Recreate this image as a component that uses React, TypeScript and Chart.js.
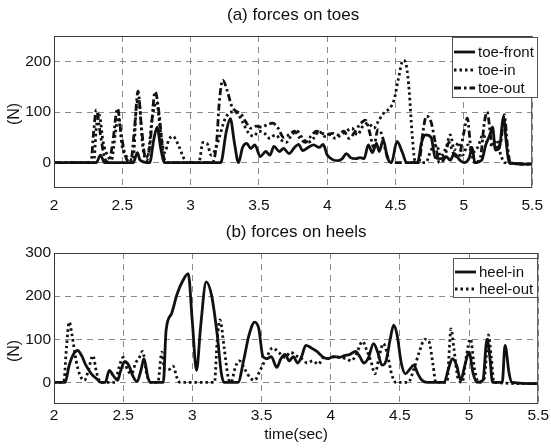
import React, { useEffect, useRef } from "react";
import { Chart, registerables } from "chart.js";

Chart.register(...registerables);

const FONT = '"Liberation Sans", Arial, Helvetica, sans-serif';

// ---------- (a) forces on toes ----------
const toeFrontT = [2.0, 2.31, 2.34, 2.37, 2.58, 2.61, 2.63, 2.7, 2.73, 2.755, 2.78, 2.81, 3.22, 3.26, 3.29, 3.32, 3.35, 3.38, 3.41, 3.44, 3.47, 3.51, 3.55, 3.58, 3.61, 3.65, 3.68, 3.72, 3.76, 3.79, 3.82, 3.86, 3.9, 3.94, 3.97, 4.0, 4.04, 4.08, 4.11, 4.14, 4.17, 4.21, 4.24, 4.27, 4.3, 4.33, 4.36, 4.38, 4.41, 4.44, 4.47, 4.51, 4.55, 4.58, 4.66, 4.69, 4.72, 4.76, 4.79, 4.83, 4.87, 4.9, 4.93, 4.97, 5.0, 5.04, 5.06, 5.08, 5.13, 5.16, 5.19, 5.21, 5.23, 5.26, 5.29, 5.31, 5.33, 5.5];
const toeFrontY = [0, 0, 15, 0, 0, 20, 5, 0, 45, 70, 30, 0, 0, 60, 87, 40, 0, 30, 38, 28, 35, 12, 22, 15, 32, 22, 28, 18, 30, 36, 24, 30, 35, 30, 36, 15, 6, 4, 8, 18, 10, 8, 10, 8, 35, 20, 38, 22, 45, 10, 0, 42, 20, 0, 0, 40, 55, 50, 10, 8, 12, 5, 18, 5, 0, 10, 30, 0, 5, 35, 55, 70, 25, 30, 90, 40, 0, -3];

const toeInT = [2.0, 2.29, 2.31, 2.33, 2.36, 2.39, 2.42, 2.45, 2.47, 2.5, 2.54, 2.58, 2.6, 2.62, 2.65, 2.68, 2.72, 2.75, 2.78, 2.81, 2.84, 2.87, 2.91, 2.94, 2.97, 3.06, 3.09, 3.12, 3.15, 3.18, 3.21, 3.25, 3.3, 3.34, 3.38, 3.42, 3.46, 3.5, 3.54, 3.58, 3.62, 3.66, 3.7, 3.74, 3.78, 3.82, 3.86, 3.9, 3.94, 3.98, 4.02, 4.06, 4.1, 4.14, 4.18, 4.22, 4.26, 4.3, 4.34, 4.38, 4.42, 4.46, 4.49, 4.52, 4.555, 4.58, 4.6, 4.62, 4.64, 4.66, 4.72, 4.76, 4.8, 4.83, 4.87, 4.9, 4.93, 4.96, 4.99, 5.03, 5.06, 5.1, 5.14, 5.17, 5.21, 5.24, 5.27, 5.3, 5.5];
const toeInY = [0, 0, 70, 95, 40, 15, 5, 60, 90, 30, 10, 5, 100, 125, 30, 5, 90, 120, 60, 20, 45, 52, 35, 15, 0, 0, 40, 38, 15, 25, 50, 85, 100, 98, 80, 60, 52, 62, 58, 48, 55, 45, 40, 55, 62, 48, 40, 48, 62, 52, 55, 48, 55, 62, 68, 55, 72, 78, 68, 85, 100, 108, 125, 165, 202, 190, 140, 60, 5, 0, 0, 25, 35, 12, 30, 55, 25, 40, 15, 35, 20, 30, 55, 40, 35, 45, 15, 0, -3];

const toeOutT = [2.0, 2.27, 2.29, 2.31, 2.34, 2.37, 2.4, 2.43, 2.465, 2.49, 2.52, 2.56, 2.59, 2.615, 2.64, 2.67, 2.7, 2.74, 2.77, 2.8, 2.83, 3.16, 3.19, 3.21, 3.235, 3.27, 3.3, 3.33, 3.37, 3.4, 3.44, 3.48, 3.52, 3.56, 3.6, 3.64, 3.68, 3.72, 3.76, 3.8, 3.84, 3.88, 3.92, 3.96, 4.0, 4.04, 4.08, 4.12, 4.16, 4.2, 4.24, 4.28, 4.31, 4.34, 4.37, 4.4, 4.43, 4.47, 4.67, 4.7, 4.725, 4.76, 4.79, 4.82, 4.86, 4.89, 4.92, 4.96, 5.0, 5.025, 5.05, 5.08, 5.12, 5.15, 5.17, 5.2, 5.24, 5.27, 5.295, 5.32, 5.34, 5.5];
const toeOutY = [0, 0, 60, 104, 55, 10, 0, 40, 107, 60, 15, 0, 70, 141, 70, 10, 30, 140, 95, 15, 0, 0, 40, 120, 163, 140, 112, 102, 96, 82, 68, 72, 70, 75, 78, 68, 50, 55, 62, 48, 40, 52, 62, 58, 56, 58, 55, 62, 48, 60, 76, 84, 60, 30, 65, 55, 20, 0, 0, 60, 92, 80, 40, 0, 10, 40, 20, 10, 60, 88, 30, 0, 10, 80, 100, 45, 30, 40, 95, 30, 0, -3];

// ---------- (b) forces on heels ----------
const heelInT = [2.0, 2.08, 2.11, 2.14, 2.17, 2.2, 2.23, 2.27, 2.31, 2.34, 2.37, 2.4, 2.43, 2.46, 2.48, 2.51, 2.54, 2.57, 2.6, 2.63, 2.65, 2.68, 2.7, 2.79, 2.81, 2.85, 2.89, 2.93, 2.97, 3.0, 3.03, 3.06, 3.1, 3.14, 3.18, 3.21, 3.23, 3.33, 3.37, 3.41, 3.45, 3.48, 3.51, 3.54, 3.57, 3.61, 3.64, 3.67, 3.7, 3.73, 3.76, 3.79, 3.82, 3.86, 3.9, 3.94, 3.98, 4.02, 4.06, 4.1, 4.14, 4.18, 4.21, 4.24, 4.27, 4.31, 4.34, 4.37, 4.4, 4.43, 4.455, 4.48, 4.51, 4.54, 4.57, 4.6, 4.63, 4.66, 4.7, 4.82, 4.85, 4.88, 4.91, 4.94, 4.97, 5.0, 5.03, 5.06, 5.1, 5.13, 5.15, 5.17, 5.24, 5.26, 5.29, 5.31, 5.5];
const heelInY = [0, 0, 40, 65, 74, 62, 40, 20, 8, 0, 0, 28, 15, 5, 25, 48, 40, 15, 2, 30, 55, 10, 0, 0, 120, 160, 205, 235, 252, 140, 28, 130, 233, 200, 110, 20, 0, 0, 50, 110, 140, 125, 60, 55, 60, 35, 55, 65, 50, 60, 45, 60, 86, 80, 72, 60, 55, 60, 58, 62, 65, 72, 60, 45, 55, 90, 70, 40, 50, 100, 133, 110, 45, 20, 30, 40, 20, 5, 0, 0, 30, 55, 40, 5, 40, 70, 20, 0, 5, 100, 60, 0, 0, 86, 20, 0, -3];

const heelOutT = [2.0, 2.07, 2.09, 2.11, 2.13, 2.16, 2.19, 2.22, 2.25, 2.28, 2.31, 2.34, 2.44, 2.47, 2.5, 2.53, 2.56, 2.59, 2.62, 2.64, 2.67, 2.7, 2.75, 2.78, 2.8, 2.83, 2.86, 2.89, 2.91, 3.16, 3.18, 3.2, 3.23, 3.26, 3.28, 3.31, 3.34, 3.38, 3.42, 3.45, 3.49, 3.54, 3.58, 3.63, 3.67, 3.71, 3.75, 3.79, 3.83, 3.87, 3.91, 3.95, 3.99, 4.03, 4.07, 4.11, 4.15, 4.19, 4.23, 4.26, 4.29, 4.32, 4.35, 4.38, 4.41, 4.44, 4.47, 4.56, 4.6, 4.64, 4.68, 4.71, 4.74, 4.76, 4.84, 4.87, 4.89, 4.92, 4.95, 4.98, 5.01, 5.04, 5.07, 5.11, 5.14, 5.16, 5.18, 5.5];
const heelOutY = [0, 0, 80, 140, 110, 50, 15, 5, 30, 62, 20, 0, 0, 35, 58, 30, 20, 45, 60, 72, 20, 0, 0, 70, 30, 30, 38, 10, 0, 0, 100, 145, 80, 10, 0, 35, 50, 30, 10, 5, 28, 60, 80, 68, 58, 70, 62, 55, 45, 50, 42, 58, 55, 60, 58, 55, 50, 70, 95, 75, 50, 20, 60, 90, 65, 20, 0, 0, 30, 70, 100, 95, 40, 0, 0, 124, 80, 10, 0, 60, 101, 30, 0, 10, 110, 60, 0, -3];

const xTickValues = [2, 2.5, 3, 3.5, 4, 4.5, 5, 5.5];
const toeYTicks = [0, 100, 200];
const heelYTicks = [0, 100, 200, 300];

const SOLID: number[] = [];
const DOTTED = [2.5, 3];
const DASHDOT = [7, 3, 2.5, 3];

function pts(t: number[], y: number[]) {
  return t.map((x, i) => ({ x, y: y[i] }));
}

type LegendCfg = { left: number; right: number; top: number; bottom: number; rows: number[] };
type PanelCfg = {
  title: string;
  titleY: number;
  yLabelY: number;
  xLabel?: string;
  xLabelY?: number;
  padTop: number;
  xAxisHeight: number;
  xTickPad: number;
  yMin: number;
  yMax: number;
  yTicks: number[];
  legend: LegendCfg;
  series: { label: string; t: number[]; y: number[]; dash: number[] }[];
};

function makeChart(canvas: HTMLCanvasElement, cfg: PanelCfg) {
  const framePlugin = {
    id: "frame" + cfg.title,
    afterDraw(chart: any) {
      const { ctx, chartArea: a } = chart;
      ctx.save();
      ctx.setLineDash([]);
      ctx.strokeStyle = "#3a3a3a";
      ctx.lineWidth = 1;
      ctx.strokeRect(a.left + 0.5, a.top + 0.5, a.right - a.left - 1, a.bottom - a.top - 1);

      ctx.fillStyle = "#111";
      ctx.textAlign = "center";
      ctx.textBaseline = "middle";
      ctx.font = `17px ${FONT}`;
      ctx.fillText(cfg.title, (a.left + a.right) / 2, cfg.titleY);

      ctx.font = `15.5px ${FONT}`;
      if (cfg.xLabel) ctx.fillText(cfg.xLabel, (a.left + a.right) / 2, cfg.xLabelY as number);

      ctx.save();
      ctx.translate(15, cfg.yLabelY);
      ctx.rotate(-Math.PI / 2);
      ctx.font = `16px ${FONT}`;
      ctx.fillText("(N)", 0, 0);
      ctx.restore();

      // legend
      const L = cfg.legend;
      ctx.fillStyle = "#fff";
      ctx.fillRect(L.left, L.top, L.right - L.left, L.bottom - L.top);
      ctx.strokeStyle = "#555";
      ctx.lineWidth = 1;
      ctx.strokeRect(L.left + 0.5, L.top + 0.5, L.right - L.left - 1, L.bottom - L.top - 1);
      cfg.series.forEach((s, i) => {
        const yy = L.rows[i];
        ctx.strokeStyle = "#111";
        ctx.lineWidth = 2.8;
        ctx.setLineDash(s.dash);
        ctx.beginPath();
        ctx.moveTo(L.left + 2, yy);
        ctx.lineTo(L.left + 23, yy);
        ctx.stroke();
        ctx.setLineDash([]);
        ctx.fillStyle = "#111";
        ctx.textAlign = "left";
        ctx.font = `15px ${FONT}`;
        ctx.fillText(s.label, L.left + 26, yy + 1);
      });
      ctx.restore();
    },
  };

  return new Chart(canvas, {
    type: "line",
    data: {
      datasets: cfg.series.map((s) => ({
        label: s.label,
        data: pts(s.t, s.y),
        borderColor: "#111",
        borderWidth: 2.8,
        borderDash: s.dash,
        borderCapStyle: "butt",
        pointRadius: 0,
        fill: false,
        cubicInterpolationMode: "monotone",
        tension: 0.3,
      })),
    },
    options: {
      responsive: false,
      animation: false,
      devicePixelRatio: 1,
      layout: { padding: { top: cfg.padTop, right: 11, left: 0, bottom: 0 } },
      plugins: { legend: { display: false }, title: { display: false }, tooltip: { enabled: false } },
      scales: {
        x: {
          type: "linear",
          min: 2,
          max: 5.5,
          afterBuildTicks: (scale: any) => {
            scale.ticks = xTickValues.map((v) => ({ value: v }));
          },
          afterFit: (scale: any) => {
            scale.height = cfg.xAxisHeight;
          },
          ticks: {
            color: "#111",
            font: { family: FONT, size: 15.5 },
            padding: cfg.xTickPad,
            maxRotation: 0,
            autoSkip: false,
            callback: (v: any) => String(v),
          },
          grid: { color: "#8a8a8a", lineWidth: 1, drawTicks: false },
          border: { display: false, dash: [6, 5] },
        },
        y: {
          type: "linear",
          min: cfg.yMin,
          max: cfg.yMax,
          afterBuildTicks: (scale: any) => {
            scale.ticks = cfg.yTicks.map((v) => ({ value: v }));
          },
          afterFit: (scale: any) => {
            scale.width = 54;
          },
          ticks: {
            color: "#111",
            font: { family: FONT, size: 15.5 },
            padding: 3,
            callback: (v: any) => String(v),
          },
          grid: { color: "#8a8a8a", lineWidth: 1, drawTicks: false },
          border: { display: false, dash: [6, 5] },
        },
      },
    },
    plugins: [framePlugin],
  } as any);
}

export default function App() {
  const topRef = useRef<HTMLCanvasElement>(null);
  const botRef = useRef<HTMLCanvasElement>(null);

  useEffect(() => {
    document.body.style.margin = "0";
    const c1 = makeChart(topRef.current as HTMLCanvasElement, {
      title: "(a) forces on toes",
      titleY: 15,
      yLabelY: 114,
      padTop: 36,
      xAxisHeight: 36,
      xTickPad: 8,
      yMin: -50,
      yMax: 250,
      yTicks: toeYTicks,
      legend: { left: 452, right: 538, top: 37, bottom: 98, rows: [52, 70, 88] },
      series: [
        { label: "toe-front", t: toeFrontT, y: toeFrontY, dash: SOLID },
        { label: "toe-in", t: toeInT, y: toeInY, dash: DOTTED },
        { label: "toe-out", t: toeOutT, y: toeOutY, dash: DASHDOT },
      ],
    });
    const c2 = makeChart(botRef.current as HTMLCanvasElement, {
      title: "(b) forces on heels",
      titleY: 8,
      yLabelY: 127,
      xLabel: "time(sec)",
      xLabelY: 211,
      padTop: 29,
      xAxisHeight: 44,
      xTickPad: 2,
      yMin: -50,
      yMax: 300,
      yTicks: heelYTicks,
      legend: { left: 453, right: 538, top: 34, bottom: 74, rows: [48, 65] },
      series: [
        { label: "heel-in", t: heelInT, y: heelInY, dash: SOLID },
        { label: "heel-out", t: heelOutT, y: heelOutY, dash: DOTTED },
      ],
    });
    return () => {
      c1.destroy();
      c2.destroy();
    };
  }, []);

  return (
    <div style={{ position: "relative", width: 551, height: 448, background: "#fff" }}>
      <canvas ref={topRef} width={551} height={224} style={{ position: "absolute", left: 0, top: 0, width: 551, height: 224 }} />
      <canvas ref={botRef} width={551} height={224} style={{ position: "absolute", left: 0, top: 224, width: 551, height: 224 }} />
    </div>
  );
}
